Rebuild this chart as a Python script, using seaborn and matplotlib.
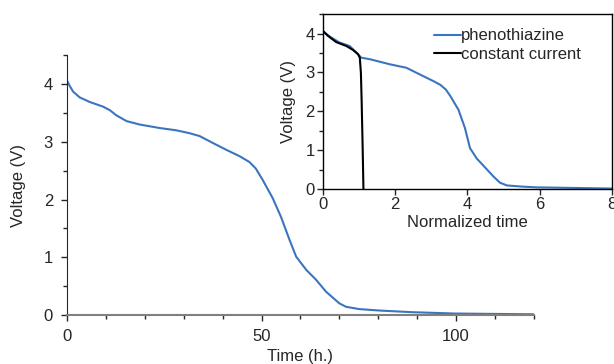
import matplotlib
matplotlib.use('Agg')
import matplotlib.pyplot as plt
from matplotlib.ticker import MultipleLocator
import seaborn as sns
import pandas as pd

# discharge curve, time in hours
time_h = [0, 0.1, 0.8, 1.6, 3.3, 5.9, 9.3, 11.0, 12.7, 15.3, 18.7, 23.8, 28.1,
          31.5, 34.1, 37.5, 41.0, 44.4, 46.9, 48.5, 50.3, 52.9, 55.0, 57.2,
          58.9, 61.5, 64.0, 66.6, 70.0, 71.7, 75.1, 80.3, 88.8, 99.7, 119.8]
volt_h = [4.08, 4.05, 3.96, 3.87, 3.77, 3.69, 3.61, 3.55, 3.46, 3.36, 3.30,
          3.24, 3.20, 3.15, 3.10, 2.98, 2.86, 2.75, 2.65, 2.54, 2.34, 2.02,
          1.70, 1.30, 1.01, 0.78, 0.61, 0.40, 0.20, 0.14, 0.10, 0.075, 0.046,
          0.023, 0.01]

# inset: normalized time
norm_t = [0, 0.23, 0.46, 0.74, 0.97, 1.06, 1.3, 1.85, 2.31, 2.59, 3.05, 3.25,
          3.4, 3.52, 3.75, 3.93, 4.07, 4.26, 4.44, 4.72, 4.9, 5.09, 5.5, 5.92,
          8.0]
norm_v = [4.05, 3.9, 3.77, 3.68, 3.47, 3.38, 3.34, 3.21, 3.12, 2.99, 2.78,
          2.68, 2.56, 2.40, 2.04, 1.57, 1.05, 0.78, 0.60, 0.32, 0.16, 0.09,
          0.06, 0.04, 0.01]
cc_t = [0, 0.14, 0.37, 0.65, 0.83, 0.97, 1.02, 1.05, 1.07, 1.10, 1.12]
cc_v = [4.07, 3.94, 3.78, 3.68, 3.58, 3.47, 3.38, 2.99, 2.30, 1.01, 0.0]

sns.set_style('ticks')
plt.rcParams['font.family'] = ['Liberation Sans', 'DejaVu Sans']
plt.rcParams['font.size'] = 12

blue = '#3b75bf'
fig = plt.figure(figsize=(6.14, 3.64), dpi=100)

ax = fig.add_axes([0.109, 0.135, 0.7606, 0.713])
sns.lineplot(data=pd.DataFrame({'t': time_h, 'v': volt_h}), x='t', y='v',
             ax=ax, color=blue, lw=1.5, sort=False)
ax.set_xlim(0, 120)
ax.set_ylim(0, 4.5)
ax.xaxis.set_major_locator(MultipleLocator(50))
ax.xaxis.set_minor_locator(MultipleLocator(10))
ax.yaxis.set_major_locator(MultipleLocator(1))
ax.yaxis.set_minor_locator(MultipleLocator(0.5))
ax.set_xlabel('Time (h.)', fontsize=12, labelpad=4)
ax.set_ylabel('Voltage (V)', fontsize=12, labelpad=13)
ax.spines['top'].set_visible(False)
ax.spines['right'].set_visible(False)
ax.spines['bottom'].set_color('#808080')
ax.spines['bottom'].set_linewidth(1.5)
ax.tick_params(which='major', length=4, width=1, labelsize=12, pad=6)
ax.tick_params(which='minor', length=3, width=1)

ins = fig.add_axes([0.526, 0.481, 0.4707, 0.48])
df_in = pd.concat([
    pd.DataFrame({'t': norm_t, 'v': norm_v, 's': 'phenothiazine'}),
    pd.DataFrame({'t': cc_t, 'v': cc_v, 's': 'constant current'}),
])
sns.lineplot(data=df_in, x='t', y='v', hue='s', sort=False, ax=ins,
             palette={'phenothiazine': blue, 'constant current': 'black'}, lw=1.5)
ins.set_xlim(0, 8)
ins.set_ylim(0, 4.5)
ins.xaxis.set_major_locator(MultipleLocator(2))
ins.yaxis.set_major_locator(MultipleLocator(1))
ins.yaxis.set_minor_locator(MultipleLocator(0.5))
ins.set_xlabel('Normalized time', fontsize=12, labelpad=2)
ins.set_ylabel('Voltage (V)', fontsize=12, labelpad=7)
ins.tick_params(which='major', length=4, width=1, labelsize=12, pad=2)
ins.tick_params(which='minor', length=3, width=1)
for s in ins.spines.values():
    s.set_color('black')
    s.set_linewidth(1)
ins.legend(loc='upper right', frameon=False, fontsize=12, handlelength=1.6,
           handletextpad=0, borderaxespad=0.45, labelspacing=0.2,
           bbox_to_anchor=(0.94, 1.0))

fig.savefig('out.png', dpi=100)
